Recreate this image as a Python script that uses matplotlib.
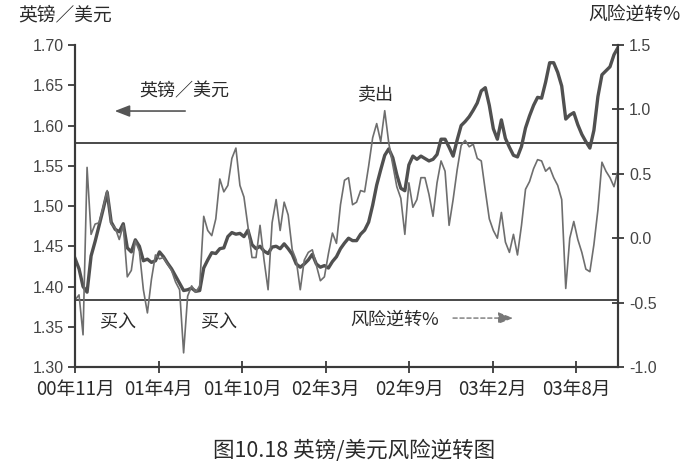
import numpy as np
import matplotlib
matplotlib.use("Agg")
import matplotlib.pyplot as plt

plt.rcParams['font.family'] = ['Noto Sans CJK SC', 'DejaVu Sans']

# 横轴刻度标签
tick_labels = ["00年11月", "01年4月", "01年10月", "02年3月", "02年9月", "03年2月", "03年8月"]

# 英镑/美元 (左轴)
gbp = [1.435, 1.422, 1.400, 1.393, 1.438, 1.456, 1.476, 1.496, 1.517, 1.480,
       1.471, 1.468, 1.478, 1.448, 1.443, 1.458, 1.450, 1.432, 1.434, 1.430,
       1.432, 1.443, 1.437, 1.429, 1.422, 1.413, 1.404, 1.395, 1.396, 1.398,
       1.394, 1.395, 1.423, 1.433, 1.442, 1.441, 1.447, 1.448, 1.462, 1.467,
       1.465, 1.466, 1.462, 1.470, 1.452, 1.447, 1.450, 1.444, 1.441, 1.449,
       1.450, 1.447, 1.453, 1.447, 1.440, 1.428, 1.424, 1.428, 1.433, 1.440,
       1.428, 1.424, 1.426, 1.423, 1.431, 1.437, 1.447, 1.454, 1.460, 1.457,
       1.457, 1.465, 1.470, 1.480, 1.501, 1.526, 1.545, 1.563, 1.571, 1.560,
       1.539, 1.522, 1.519, 1.551, 1.562, 1.558, 1.562, 1.559, 1.556, 1.558,
       1.564, 1.583, 1.583, 1.573, 1.562, 1.582, 1.600, 1.605, 1.611, 1.619,
       1.628, 1.643, 1.647, 1.625, 1.596, 1.583, 1.607, 1.584, 1.573, 1.563,
       1.561, 1.574, 1.597, 1.612, 1.625, 1.635, 1.634, 1.654, 1.678, 1.678,
       1.666, 1.649, 1.608, 1.613, 1.616, 1.601, 1.589, 1.580, 1.572, 1.594,
       1.636, 1.663, 1.668, 1.673, 1.688, 1.697]

# 风险逆转% (右轴)
rr = [-0.48, -0.44, -0.75, 0.55, 0.03, 0.11, 0.12, 0.24, 0.37, 0.11,
      0.08, -0.01, 0.10, -0.30, -0.25, -0.02, -0.10, -0.40, -0.58, -0.32,
      -0.13, -0.16, -0.15, -0.20, -0.25, -0.34, -0.40, -0.89, -0.45, -0.37,
      -0.42, -0.37, 0.17, 0.06, 0.02, 0.15, 0.46, 0.36, 0.41, 0.62,
      0.70, 0.41, 0.32, 0.09, -0.15, -0.15, 0.10, -0.17, -0.40, 0.12,
      0.30, 0.06, 0.28, 0.18, -0.09, -0.17, -0.40, -0.17, -0.11, -0.09,
      -0.21, -0.33, -0.30, -0.12, 0.04, -0.04, 0.26, 0.45, 0.47, 0.26,
      0.28, 0.37, 0.36, 0.56, 0.78, 0.89, 0.75, 0.99, 0.74, 0.57,
      0.40, 0.31, 0.03, 0.43, 0.24, 0.30, 0.47, 0.47, 0.34, 0.17,
      0.43, 0.60, 0.52, 0.10, 0.30, 0.53, 0.72, 0.76, 0.71, 0.73,
      0.62, 0.60, 0.37, 0.15, 0.06, 0.00, 0.20, -0.03, -0.11, 0.03,
      -0.13, 0.10, 0.38, 0.44, 0.54, 0.61, 0.60, 0.52, 0.55, 0.47,
      0.41, 0.30, -0.39, 0.00, 0.13, -0.01, -0.11, -0.24, -0.26, -0.05,
      0.22, 0.59, 0.52, 0.47, 0.40, 0.53]

# 卖出/买入 参考线 (英镑/美元)
sell_level = 1.578
buy_level = 1.383

t = np.linspace(0, 6.5, len(gbp))
axis_col = "#3a3a3a"
text_col = "#2a2a2a"

fig = plt.figure(figsize=(6.9, 4.67), dpi=100)
ax = fig.add_axes([0.1087, 0.2141, 0.787, 0.6895])
ax2 = ax.twinx()

ax.plot(t, gbp, color="#505050", lw=2.4, zorder=3)
ax2.plot(t, rr, color="#6e6e6e", lw=1.2, zorder=2)

ax.axhline(sell_level, color=axis_col, lw=1.3)
ax.axhline(buy_level, color=axis_col, lw=1.3)

ax.set_xlim(0, 6.5)
ax.set_ylim(1.30, 1.70)
ax2.set_ylim(-1.0, 1.5)

ax.set_xticks(range(len(tick_labels)))
ax.set_xticklabels(tick_labels, fontsize=13.5, color=text_col)
ax.set_yticks(np.arange(1.30, 1.701, 0.05))
ax.set_yticklabels(["%.2f" % v for v in np.arange(1.30, 1.701, 0.05)],
                   family="Liberation Sans", fontsize=11.5, color="#444444")
ax2.set_yticks(np.arange(-1.0, 1.51, 0.5))
ax2.set_yticklabels(["%.1f" % v if abs(v) > 1e-9 else "0.0" for v in np.arange(-1.0, 1.51, 0.5)],
                    family="Liberation Sans", fontsize=11.5, color="#444444")

for a in (ax, ax2):
    a.spines["top"].set_visible(False)
    for s in ("left", "right", "bottom"):
        a.spines[s].set_color(axis_col)
        a.spines[s].set_linewidth(1.5)

ax.tick_params(axis="y", direction="out", length=5, width=1.3, color=axis_col, pad=3)
ax2.tick_params(axis="y", direction="inout", length=8, width=1.3, color=axis_col, pad=4)
ax.tick_params(axis="x", direction="inout", length=9, width=1.3, color=axis_col, pad=4)

# 注释文字
ax.text(0.201, 0.857, "英镑／美元", transform=ax.transAxes, ha="center", va="center",
        fontsize=13, color=text_col)
ax.annotate("", xy=(0.068, 0.795), xytext=(0.208, 0.795), xycoords="axes fraction",
            arrowprops=dict(arrowstyle="-|>,head_length=0.9,head_width=0.35",
                            color="#555555", lw=1.2))
ax.text(0.554, 0.848, "卖出", transform=ax.transAxes, ha="center", va="center",
        fontsize=13, color=text_col)
ax.text(0.079, 0.140, "买入", transform=ax.transAxes, ha="center", va="center",
        fontsize=13, color=text_col)
ax.text(0.265, 0.140, "买入", transform=ax.transAxes, ha="center", va="center",
        fontsize=13, color=text_col)
ax.text(0.589, 0.146, "风险逆转%", transform=ax.transAxes, ha="center", va="center",
        fontsize=13, color=text_col)
ax.annotate("", xy=(0.812, 0.152), xytext=(0.691, 0.152), xycoords="axes fraction",
            arrowprops=dict(arrowstyle="-|>,head_length=0.9,head_width=0.35",
                            color="#777777", lw=1.0, linestyle=(0, (3, 2))))

# 轴标题与图名
fig.text(0.094, 0.968, "英镑／美元", ha="center", va="center", fontsize=13.5, color=text_col)
fig.text(0.920, 0.968, "风险逆转%", ha="center", va="center", fontsize=13.5, color=text_col)
fig.text(0.513, 0.034, "图10.18 英镑/美元风险逆转图", ha="center", va="center",
         fontsize=15.5, color=text_col)

fig.savefig("out.png", dpi=100)
